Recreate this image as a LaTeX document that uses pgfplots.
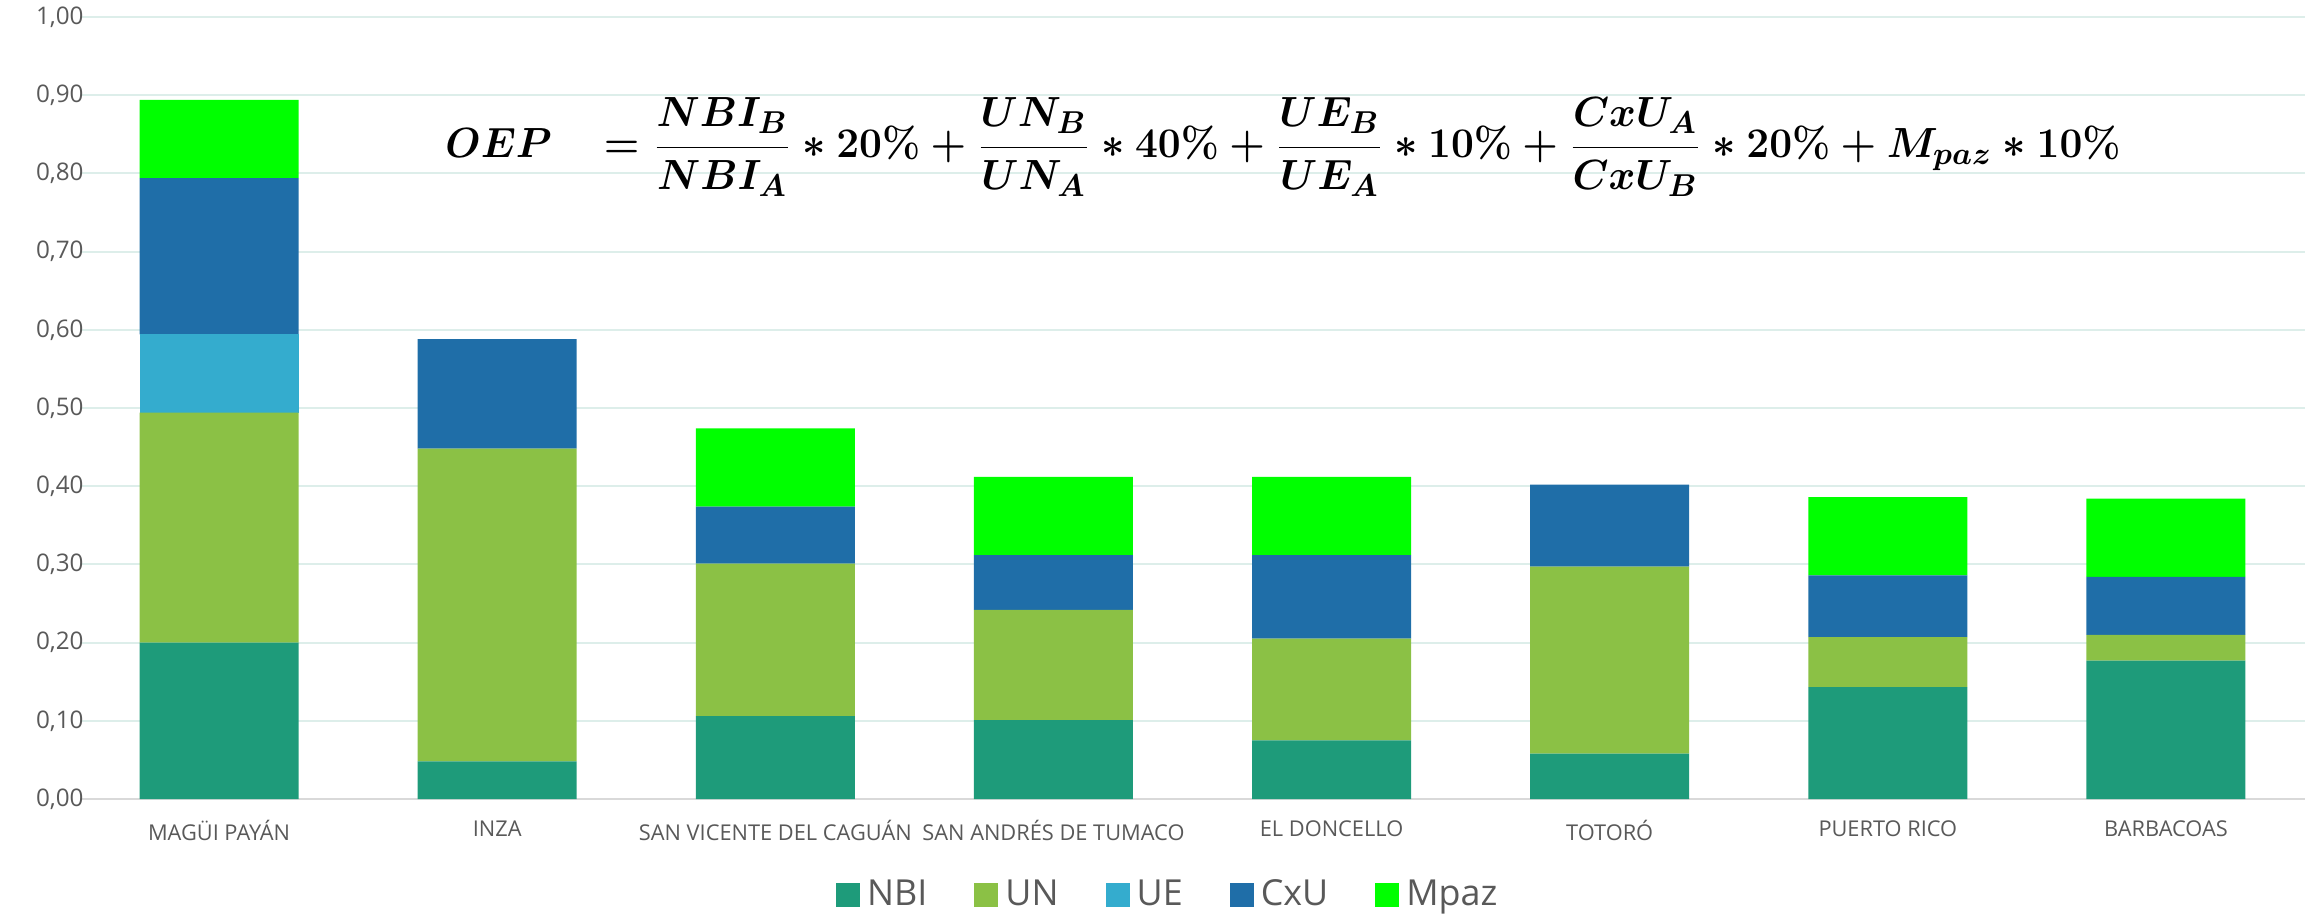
\documentclass[border=0pt]{standalone}
\usepackage{amsmath}
\usepackage{pgfplots}
\pgfplotsset{compat=1.18}
\usepackage[no-math]{fontspec}
\setmainfont{Open Sans}
\definecolor{cNBI}{HTML}{1E9B7A}
\definecolor{cUN}{HTML}{8BC145}
\definecolor{cUE}{HTML}{34ACCE}
\definecolor{cCxU}{HTML}{1F6EA8}
\definecolor{cMpaz}{HTML}{00FF00}
\definecolor{gridc}{HTML}{DDEEEA}
\definecolor{axc}{HTML}{D9D9D9}
\definecolor{txtc}{HTML}{595959}
\pgfplotsset{sqlegend/.style={legend image code/.code={\fill[##1] (0mm,-1.2mm) rectangle (2.4mm,1.2mm);}}}
\newsavebox\formbox
\begin{document}
\sbox\formbox{\resizebox{167.5mm}{\height}{\fontsize{12.8}{15}\selectfont\boldmath$\displaystyle OEP\;\;\;=\frac{NBI_B}{NBI_A}\ast 20\%+\frac{UN_B}{UN_A}\ast 40\%+\frac{UE_B}{UE_A}\ast 10\%+\frac{CxU_A}{CxU_B}\ast 20\%+M_{paz}\ast 10\%$}}%
\begin{tikzpicture}
\begin{axis}[
  scale only axis, width=222.5mm, height=78.2mm,
  ybar stacked, bar width=15.9mm,
  xmin=-0.5, xmax=7.5, ymin=0, ymax=1,
  xtick={0,1,2,3,4,5,6,7},
  xticklabels={MAGÜI PAYÁN, INZA, SAN VICENTE DEL CAGUÁN, SAN ANDRÉS DE TUMACO, EL DONCELLO, TOTORÓ, PUERTO RICO, BARBACOAS},
  ytick={0,0.1,0.2,0.3,0.4,0.5,0.6,0.7,0.8,0.9,1.0},
  yticklabel style={/pgf/number format/fixed, /pgf/number format/fixed zerofill, /pgf/number format/precision=2, /pgf/number format/use comma, /pgf/number format/assume math mode=true,
    font=\fontsize{6.9}{8}\selectfont, text=txtc, xshift=1.6mm},
  xticklabel style={font=\fontsize{6.2}{7}\selectfont, text=txtc, yshift=-0.9mm},
  major tick length=0pt,
  ymajorgrids, grid style={draw=gridc, line width=0.55pt},
  axis lines*=left,
  y axis line style={draw=none},
  x axis line style={draw=axc, line width=0.6pt},
  legend style={at={(0.490,-0.123)}, anchor=center, draw=none, fill=none,
    legend columns=-1, font=\fontsize{10.2}{12}\selectfont, text=txtc,
    /tikz/every even column/.append style={column sep=4mm}},
  sqlegend,
  clip=false,
]
\addplot[fill=cNBI, draw=none] coordinates {(0,0.200) (1,0.048) (2,0.106) (3,0.101) (4,0.075) (5,0.058) (6,0.143) (7,0.177)};
\addplot[fill=cUN, draw=none] coordinates {(0,0.294) (1,0.400) (2,0.195) (3,0.141) (4,0.130) (5,0.239) (6,0.064) (7,0.033)};
\addplot[fill=cUE, draw=none] coordinates {(0,0.100) (1,0) (2,0) (3,0) (4,0) (5,0) (6,0) (7,0)};
\addplot[fill=cCxU, draw=none] coordinates {(0,0.200) (1,0.140) (2,0.073) (3,0.070) (4,0.107) (5,0.105) (6,0.079) (7,0.074)};
\addplot[fill=cMpaz, draw=none] coordinates {(0,0.100) (1,0) (2,0.100) (3,0.100) (4,0.100) (5,0) (6,0.100) (7,0.100)};
\legend{NBI, UN, UE, CxU, Mpaz}
\end{axis}
\node[anchor=center, inner sep=0pt, xshift=120.3mm, yshift=65.2mm] at (current axis.south west) {\usebox\formbox};
\pgfresetboundingbox
\path[use as bounding box] ([xshift=-8mm,yshift=-12.2mm]current axis.south west) rectangle ([yshift=1.7mm]current axis.north east);
\end{tikzpicture}
\end{document}
